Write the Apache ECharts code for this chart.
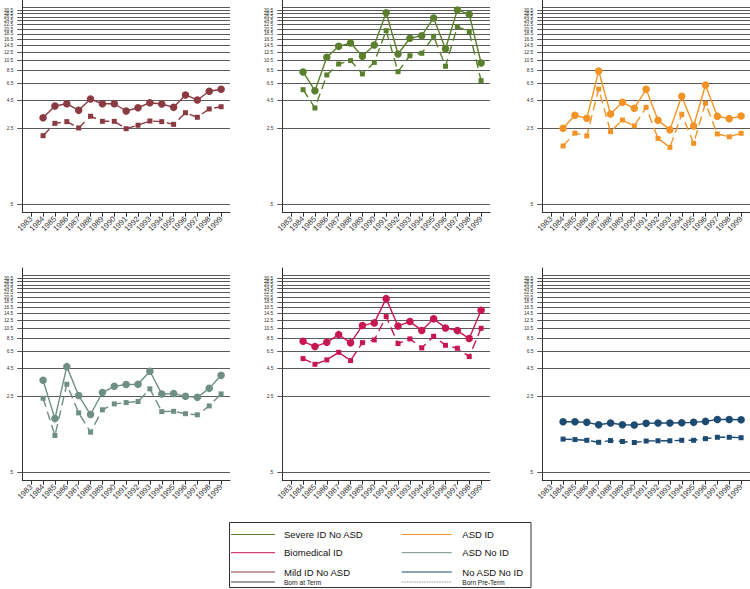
<!DOCTYPE html>
<html><head><meta charset="utf-8">
<script src="https://cdn.jsdelivr.net/npm/echarts@6/dist/echarts.min.js"></script>
<style>html,body{margin:0;padding:0;background:#fff}#c{width:750px;height:589px}</style>
</head><body><div id="c"></div>
<script>
// ---------- data ----------
const years = [1983,1984,1985,1986,1987,1988,1989,1990,1991,1992,1993,1994,1995,1996,1997,1998,1999];
const yTickValues = [0.5,2.5,4.5,6.5,8.5,10.5,12.5,14.5,16.5,18.5,20.5,22.5,24.5,26.5,28.5,30.5,32.5];
const yTickLabels = ['.5','2.5','4.5','6.5','8.5','10.5','12.5','14.5','16.5','18.5','20.5','22.5','24.5','26.5','28.5','30.5','32.5'];

const groups = ['Mild ID No ASD','Severe ID No ASD','ASD ID','ASD No ID','Biomedical ID','No ASD No ID'];
const groupColors = ['#8b3a42','#5b7f2d','#f39325','#6e8f81','#c8174f','#1d4a70'];

const mildTerm    = [null,3.13,4.01,4.21,3.66,4.65,4.21,4.21,3.61,3.87,4.30,4.19,3.90,5.07,4.56,5.48,5.72];
const mildPre     = [null,2.14,2.78,2.88,2.52,3.23,2.90,2.90,2.48,2.67,2.92,2.88,2.72,3.48,3.16,3.77,3.95];
const severeTerm  = [null,8.25,5.55,11.26,14.2,15.24,11.5,14.6,28.97,12.07,16.85,17.8,25.9,13.5,30.7,28.0,9.98];
const severePre   = [null,5.67,3.85,7.74,9.77,10.5,7.91,10.1,19.8,8.3,11.64,12.26,17.56,9.31,21.5,19.4,6.86];
const asdIdTerm   = [null,2.50,3.30,3.09,8.42,3.39,4.34,3.82,5.72,2.96,2.43,4.93,2.63,6.26,3.23,3.07,3.25];
const asdIdPre    = [null,1.72,2.26,2.13,5.75,2.33,2.98,2.63,3.90,2.02,1.67,3.37,1.82,4.25,2.22,2.09,2.25];
const asdNoIdTerm = [null,3.51,1.56,4.69,2.54,1.70,2.71,3.09,3.21,3.23,4.25,2.63,2.65,2.50,2.45,2.96,3.90];
const asdNoIdPre  = [null,2.40,1.09,3.23,1.76,1.17,1.88,2.13,2.19,2.24,2.93,1.81,1.82,1.73,1.69,2.04,2.63];
const bioTerm     = [null,8.02,7.17,7.85,9.24,7.76,11.19,11.85,19.8,11.1,12.18,10.1,12.9,10.65,10.06,8.50,15.47];
const bioPre      = [null,5.56,4.93,5.41,6.35,5.33,7.80,8.26,13.54,7.64,8.44,6.98,8.92,7.37,6.92,5.80,10.57];
const noneTerm    = [null,1.46,1.46,1.44,1.37,1.42,1.37,1.36,1.41,1.42,1.42,1.43,1.44,1.47,1.53,1.53,1.52];
const nonePre     = [null,1.01,1.00,0.985,0.944,0.979,0.96,0.94,0.97,0.975,0.975,0.985,0.985,1.02,1.05,1.05,1.04];

const termSeries = [mildTerm, severeTerm, asdIdTerm, asdNoIdTerm, bioTerm, noneTerm];
const preSeries  = [mildPre, severePre, asdIdPre, asdNoIdPre, bioPre, nonePre];

const legendCol1 = ['Severe ID No ASD','Biomedical ID','Mild ID No ASD'];
const legendCol1Colors = ['#5b7f2d','#c8174f','#8b3a42'];
const legendCol2 = ['ASD ID','ASD No ID','No ASD No ID'];
const legendCol2Colors = ['#f39325','#6e8f81','#1d4a70'];
const birthLabels = ['Born at Term','Born Pre-Term'];

// ---------- layout ----------
const FONT = "'Liberation Sans', Arial, Helvetica, sans-serif";
const panelLefts = [22.3, 282.3, 542.3];
const panelTops = [0, 268];
const panelW = 207.7, panelH = 212.7;
const yMin = Math.log10(0.4185), yMax = Math.log10(37.9);
const lg = v => (v == null ? null : Math.log10(v));

const grids = [], xAxes = [], yAxes = [], series = [];
for (let p = 0; p < 6; p++) {
  const r = Math.floor(p / 3), c = p % 3;
  grids.push({left: panelLefts[c], top: panelTops[r], width: panelW, height: panelH, outerBoundsMode: 'none'});
  xAxes.push({
    type: 'value', gridIndex: p, min: 1982.25, max: 1999.75,
    axisLine: {show: true, onZero: false, lineStyle: {color: '#333', width: 1}},
    axisTick: {show: true, length: 4, customValues: years, lineStyle: {color: '#333', width: 1}},
    axisLabel: {customValues: years, rotate: 45, fontSize: 7.8, color: '#333', fontFamily: FONT, margin: 5,
                formatter: v => String(Math.round(v))},
    splitLine: {show: false}
  });
  const logTicks = yTickValues.map(v => Math.log10(v));
  yAxes.push({
    type: 'value', gridIndex: p, min: yMin, max: yMax,
    axisLine: {show: true, onZero: false, lineStyle: {color: '#333', width: 1}},
    axisTick: {show: true, length: 5, customValues: logTicks, lineStyle: {color: '#555', width: 1}},
    axisLabel: {customValues: logTicks, fontSize: 4.8, color: '#333', fontFamily: FONT, margin: 9,
                formatter: v => {
                  const i = logTicks.findIndex(t => Math.abs(t - v) < 1e-6);
                  return i >= 0 ? yTickLabels[i] : '';
                }},
    splitLine: {show: true, lineStyle: {color: '#5a5a5a', width: 1.2}}
  });
  const col = groupColors[p];
  const toData = arr => years.map((y, i) => [y, lg(arr[i])]).filter(d => d[1] != null);
  series.push({
    type: 'line', name: groups[p] + ' (term)', xAxisIndex: p, yAxisIndex: p,
    data: toData(termSeries[p]), symbol: 'circle', symbolSize: 7.5,
    itemStyle: {color: col}, lineStyle: {color: col, width: 1.4}, animation: false, z: 3
  });
  series.push({
    type: 'line', name: groups[p] + ' (pre-term)', xAxisIndex: p, yAxisIndex: p,
    data: toData(preSeries[p]), symbol: 'rect', symbolSize: 5,
    itemStyle: {color: col}, lineStyle: {color: col, width: 1.4, type: [9, 5]}, animation: false, z: 3
  });
}

// ---------- legend (graphic) ----------
const graphic = [];
graphic.push({type: 'rect', shape: {x: 229.5, y: 522.5, width: 301.5, height: 65},
  style: {fill: 'none', stroke: '#333', lineWidth: 1}});
const rowY = [534.5, 552.7, 572];
legendCol1.forEach((n, i) => {
  graphic.push({type: 'line', shape: {x1: 231, y1: rowY[i], x2: 275, y2: rowY[i]}, style: {stroke: legendCol1Colors[i], lineWidth: 1}});
  graphic.push({type: 'text', x: 284, y: rowY[i], style: {text: n, font: '9.5px ' + FONT, fill: '#111', verticalAlign: 'middle'}});
});
legendCol2.forEach((n, i) => {
  graphic.push({type: 'line', shape: {x1: 401.7, y1: rowY[i], x2: 451.7, y2: rowY[i]}, style: {stroke: legendCol2Colors[i], lineWidth: 1}});
  graphic.push({type: 'text', x: 462.3, y: rowY[i], style: {text: n, font: '9.5px ' + FONT, fill: '#111', verticalAlign: 'middle'}});
});
const r4 = 582;
graphic.push({type: 'line', shape: {x1: 231, y1: r4, x2: 275, y2: r4}, style: {stroke: '#111', lineWidth: 0.8}});
graphic.push({type: 'text', x: 284, y: r4, style: {text: birthLabels[0], font: '6.5px ' + FONT, fill: '#111', verticalAlign: 'middle'}});
graphic.push({type: 'line', shape: {x1: 401.7, y1: r4, x2: 451.7, y2: r4}, style: {stroke: '#777', lineWidth: 0.8, lineDash: [1.5, 1]}});
graphic.push({type: 'text', x: 462.3, y: r4, style: {text: birthLabels[1], font: '6.5px ' + FONT, fill: '#111', verticalAlign: 'middle'}});

const chart = echarts.init(document.getElementById('c'), null, {renderer: 'svg'});
chart.setOption({
  backgroundColor: '#fff',
  animation: false,
  grid: grids, xAxis: xAxes, yAxis: yAxes, series: series,
  graphic: graphic
});
</script></body></html>
